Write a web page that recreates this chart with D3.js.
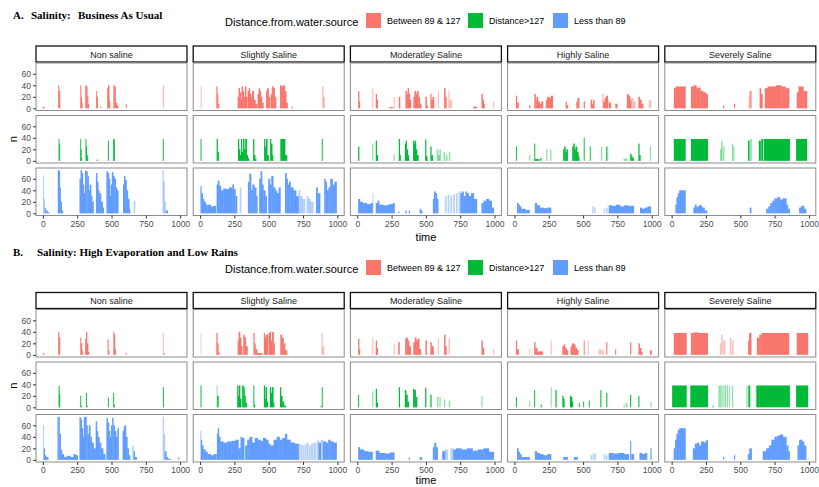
<!DOCTYPE html>
<html>
<head>
<meta charset="utf-8">
<script src="https://cdn.jsdelivr.net/npm/d3@7"></script>
<style>
  body { margin: 0; background: #fff; }
  text { font-family: "Liberation Sans", Arial, sans-serif; }
</style>
</head>
<body>
<script>

// Facets, groups and ticks
var facets = ["Non saline", "Slightly Saline", "Moderatley Saline", "Highly Saline", "Severely Saline"];
var groups = ["Between 89 & 127", "Distance>127", "Less than 89"];
var groupColors = ["#F8766D", "#00BA38", "#619CFF"];
var xTicks = [0, 250, 500, 750, 1000];
var yTicks = [0, 20, 40, 60];

// Each run is [time from, time to, n, light?]
// A. Business As Usual
var aNonRed = [[0,10,3],[113,118,40],[118,125,30],[274,279,40],[279,284,20],[284,288,10],
  [310,318,40],[318,324,38],[324,330,22],[330,335,8],[390,394,30],[394,400,20],[420,424,3],
  [470,476,35],[476,484,40],[484,490,12],[515,523,40],[523,530,38],[530,540,10],[540,548,5],
  [605,609,8],[875,882,40,1]];
var aNonGreen = [[116,120,38],[120,124,28],[274,277,38],[277,280,20],[280,283,5],[312,316,38],
  [316,320,25],[320,326,10],[326,330,3],[392,398,2],[475,479,35],[514,518,38],[518,523,37],[875,879,38]];
var aNonBlue = [[2,8,66,1],[8,14,25,1],[14,20,10],[20,34,5],[34,46,2],[110,116,75],[116,124,74],
  [124,130,45],[130,138,20],[138,146,5],[268,276,60],[276,284,75],[284,292,70],[292,300,50],
  [300,308,35],[308,318,74],[318,326,73],[326,334,65],[334,342,40],[342,352,50],[352,360,30],
  [360,370,20],[388,396,70],[396,404,55],[404,412,40],[412,424,35],[424,436,20],[436,444,10],
  [464,472,73],[472,482,70],[482,490,60],[490,496,30],[496,504,50],[504,512,72],[512,522,65],
  [522,532,60],[532,540,45],[540,550,40],[585,592,50],[592,600,65],[600,610,58],[610,620,40],
  [620,630,25],[630,636,8],[662,672,22,1],[872,880,75,1],[880,888,55,1],[888,896,20,1],[896,910,5]];

var aSlightRed = [[5,10,38,1],[120,126,38],[126,132,25],[132,138,8],[275,282,20],[282,290,35],
  [290,298,28],[298,304,15],[304,312,38],[312,320,30],[320,328,20],[328,336,38],[336,344,20],
  [348,356,30],[356,364,35],[364,372,25],[372,380,20],[380,392,30],[392,404,15],[404,416,8],
  [420,428,25],[428,436,35],[436,444,30],[444,452,20],[452,462,10],[482,490,30],[490,500,35],
  [500,510,20],[516,524,25],[524,534,38],[534,544,35],[544,554,20],[584,594,40],[594,606,38],
  [606,618,40],[618,628,30],[628,638,10],[668,674,3],[890,898,38,1],[898,908,20,1]];
var aSlightGreen = [[5,9,38],[122,128,38],[128,136,15],[278,284,38],[284,292,20],[292,300,10],
  [300,306,38],[306,314,15],[314,322,38],[322,330,20],[330,340,38],[340,348,10],[348,356,5],
  [388,394,38],[394,402,10],[402,410,3],[468,474,38],[474,482,25],[482,490,38],[490,500,10],
  [512,518,38],[518,526,30],[526,532,10],[586,594,38],[594,610,38],[610,620,38],[620,634,10],[888,892,38]];
var aSlightBlue = [[4,10,47],[10,20,35],[20,30,25],[30,42,20],[42,55,15],[55,80,15],[80,100,12],
  [100,116,13],[122,130,50],[130,140,57],[140,152,48],[152,170,40],[170,190,43],[190,212,42],
  [212,236,45],[236,246,50],[246,258,42],[258,270,30],[290,300,45,1],[350,360,55],[360,372,69],
  [372,382,40],[382,396,50],[396,410,45],[410,418,30],[432,442,60],[442,452,73],[452,462,50],
  [462,476,40],[476,486,30],[498,510,60],[510,520,50],[520,534,65],[534,548,45],[548,560,40],
  [560,574,35],[574,586,45],[620,630,70],[630,640,60],[640,650,50],[650,660,55],[660,680,45],
  [680,700,40],[700,718,30],[718,730,40,1],[730,745,30,1],[745,766,25,1],[778,790,30,1],
  [790,805,25,1],[805,826,20,1],[846,856,45],[856,875,35],[906,914,60],[914,924,55],[924,936,40],
  [936,950,45],[950,966,60],[966,980,50],[980,995,55]];

var aModRed = [[8,14,30],[14,20,12],[110,116,35,1],[136,142,25],[142,150,15],[232,260,2],
  [266,272,20,1],[304,312,20],[352,360,30],[360,368,25],[368,376,35],[376,384,25],[384,392,15],
  [410,418,20],[418,428,30],[428,436,25],[436,446,30],[446,456,20],[456,466,8],[498,506,20],
  [506,514,5],[534,540,25],[540,550,15],[550,560,20],[588,594,30,1],[634,642,35],[642,650,20],
  [665,672,30,1],[672,690,15,1],[846,872,3],[906,914,25],[914,922,15],[922,928,8],[990,996,12,1]];
var aModGreen = [[8,14,25],[110,116,30,1],[136,142,35],[142,150,10],[266,272,12,1],[304,310,38],
  [310,316,10],[348,354,30],[354,360,35],[360,368,20],[368,376,10],[408,414,35],[414,420,30],
  [420,428,35],[428,436,20],[436,446,10],[496,502,37],[502,510,8],[534,540,25],[540,550,10],
  [580,590,20,1],[590,600,10,1],[600,608,20,1],[630,640,15,1],[648,656,10,1],[668,676,15,1]];
var aModBlue = [[8,20,25],[20,40,20],[40,70,18],[70,100,16],[100,112,18],[112,116,35,1],
  [136,150,18],[150,160,22],[160,190,15],[190,230,14],[230,260,16],[260,272,18],[300,306,3],
  [352,358,5],[376,382,5],[456,464,8],[464,474,5],[552,560,25],[560,570,38],[570,580,35],
  [580,590,25],[640,650,30,1],[660,670,32,1],[680,690,30,1],[700,710,33,1],[720,730,35,1],
  [740,750,38,1],[752,762,35],[762,775,38],[775,790,30],[790,800,38],[800,812,35],[812,830,30],
  [830,850,35],[850,872,25],[906,920,18],[920,940,22],[940,960,25],[960,980,22],[980,995,10]];

var aHighRed = [[12,18,22],[18,30,10],[108,114,5],[146,154,25],[154,162,15],[162,172,20],
  [172,184,12],[184,196,8],[196,208,12],[230,240,15],[240,254,20],[254,266,18],[266,280,22],
  [374,380,12],[380,390,6],[452,460,12],[460,472,18],[506,512,12],[556,564,15],[564,574,8],
  [574,582,15],[640,648,25,1],[648,658,12],[658,668,18],[668,680,22],[680,690,15,1],[690,702,10],
  [736,750,8],[820,830,25],[830,842,22],[842,850,15],[850,866,18,1],[866,882,12,1],[904,914,20],
  [914,926,15],[926,938,8],[980,996,15,1]];
var aHighGreen = [[12,16,25],[108,113,10,1],[146,150,30],[150,180,3],[190,196,5],[232,238,20,1],
  [262,268,20,1],[356,364,20],[364,372,25],[372,380,15],[380,388,20],[422,430,25],[430,438,30],
  [438,446,20],[446,456,25],[456,466,15],[466,472,8],[506,510,40],[550,554,25],[632,638,25,1],
  [670,674,25],[678,682,25,1],[796,822,4,1],[844,852,12],[852,860,8],[860,870,5],[904,910,30],
  [910,918,10],[988,994,25,1]];
var aHighBlue = [[20,30,18],[30,40,15],[40,50,12],[50,80,8],[80,110,6],[150,164,18],[164,184,14],
  [184,210,10],[210,240,9],[240,267,10],[568,576,12,1],[584,592,10,1],[652,660,8,1],[670,678,10,1],
  [688,710,14],[710,740,13],[740,770,15],[770,800,12],[800,830,14],[830,870,13],[916,930,10],
  [930,950,8],[950,970,10],[970,994,12]];

var aSevRed = [[17,30,35],[30,101,38],[142,160,38],[160,180,40],[180,210,36],[210,230,30],
  [230,250,28],[250,263,25],[376,381,5],[456,461,8],[560,566,20,1],[566,574,30,1],[574,580,30],
  [642,650,35],[650,662,25],[680,700,35],[700,760,38],[760,800,40],[800,830,38],[830,856,35],
  [912,925,28],[925,960,38],[960,986,30]];
var aSevGreen = [[17,101,38],[142,263,38],[354,362,20,1],[362,370,35,1],[376,383,25,1],
  [440,446,30,1],[450,456,25,1],[558,566,35],[572,582,38,1],[636,648,35],[654,666,38],
  [674,860,38],[908,985,38]];
var aSevBlue = [[28,36,15],[36,46,28],[46,56,35],[56,101,40],[160,170,10],[170,180,15],
  [180,200,12],[200,220,14],[220,240,10],[240,258,5],[570,580,10],[690,705,8],[705,720,12],
  [720,735,18],[735,750,22],[750,770,26],[770,790,28],[790,810,24],[810,836,26],[836,848,15],
  [848,860,8],[930,945,10],[945,965,13],[965,980,8]];

// B. High Evaporation and Low Rains
var bNonRed = [[2,10,3],[113,118,40],[118,125,30],[274,279,30],[279,285,20],[285,290,8],
  [310,316,28],[316,322,40],[322,330,20],[330,336,5],[473,478,27],[478,484,8],[515,520,40],
  [520,526,35],[526,532,10],[605,609,3],[875,880,38,1],[880,886,3]];
var bNonGreen = [[116,121,37],[121,125,22],[274,278,20],[278,282,3],[315,319,25],[319,324,3],
  [475,479,17],[514,518,25],[518,522,5],[876,880,35]];
var bNonBlue = [[2,8,60,1],[8,14,20],[14,22,8],[22,40,5],[108,114,75],[114,122,74],[122,130,45],
  [130,140,18],[140,154,10],[154,175,5],[175,200,7],[200,225,5],[225,240,10],[240,255,8],
  [268,276,74],[276,284,70],[284,292,55],[292,300,40],[300,308,74],[308,318,75],[318,326,60],
  [326,336,45],[336,346,60],[346,356,40],[356,370,30],[370,385,20],[386,394,67],[394,402,50],
  [402,412,40],[412,424,30],[424,440,20],[440,455,10],[464,472,73],[472,482,65],[482,490,50],
  [490,498,40],[498,506,60],[506,514,73],[514,524,60],[524,534,50],[534,544,40],[544,552,55],
  [582,590,50],[590,598,58],[598,606,60],[606,616,40],[616,626,20],[626,636,8],[654,662,25,1],
  [662,670,15],[670,684,5],[874,882,75,1],[882,890,45,1],[890,900,15],[900,910,5],[910,930,2],
  [982,996,5,1]];

var bSlightRed = [[5,9,38,1],[120,126,38],[126,134,20],[134,140,5],[275,282,25],[282,292,40],
  [292,300,30],[300,308,15],[316,324,35],[324,334,30],[334,346,15],[390,396,38],[396,404,20],
  [404,416,10],[416,454,3],[466,472,38],[472,480,30],[480,494,35],[500,508,38],[508,516,40],
  [516,526,25],[526,536,40],[536,544,20],[586,596,35],[596,608,30],[608,620,20],[620,634,8],
  [886,892,38,1],[892,904,15,1]];
var bSlightGreen = [[5,9,38],[122,126,38,1],[126,134,20],[272,278,38],[278,284,20],[284,292,38],
  [292,300,15],[308,316,38],[316,324,35],[324,332,20],[332,340,8],[390,394,38],[394,400,5],
  [466,472,38],[472,478,15],[478,486,35],[486,494,10],[510,516,35],[516,524,25],[524,534,35],
  [534,540,8],[584,590,35],[590,600,20],[600,612,10],[612,624,3],[880,888,2],[888,892,35]];
var bSlightBlue = [[2,8,50,1],[8,14,35],[14,24,25],[24,40,18],[40,55,14],[55,80,10],[80,100,8],
  [100,120,10],[124,130,45],[130,138,55],[138,148,40],[148,170,32],[170,200,30],[200,230,32],
  [230,260,33],[260,280,35],[280,296,20],[296,306,40],[306,322,38],[330,345,25],[345,360,35],
  [360,380,40],[380,400,30],[400,420,38],[420,440,35],[440,460,33],[460,480,38],[480,498,35],
  [498,512,28],[512,537,25],[537,560,35],[560,580,40],[580,600,35],[600,620,38],[620,634,45],
  [634,660,35],[660,690,30],[690,718,28],[720,730,28,1],[735,745,26,1],[750,760,25,1],
  [765,775,28,1],[780,790,30,1],[795,805,25,1],[810,825,28,1],[830,845,30,1],[852,864,35,1],
  [864,880,30],[880,896,35,1],[896,915,32],[915,935,30],[935,950,35],[950,970,32],[970,995,30]];

var bModRed = [[8,14,28],[14,20,10],[110,116,30,1],[136,142,25],[142,150,12],[266,272,18,1],
  [300,308,22],[350,358,28],[358,368,30],[368,378,25],[378,390,15],[410,420,22],[420,430,30],
  [430,440,25],[440,452,28],[452,464,10],[498,506,25],[534,542,22],[542,556,15],[588,594,28,1],
  [634,642,35],[642,650,15],[666,674,28,1],[906,914,25],[914,924,12],[990,996,10,1]];
var bModGreen = [[8,12,22],[110,116,28,1],[136,142,32],[142,150,8],[304,310,35],[348,356,30],
  [356,366,22],[366,376,10],[408,416,32],[416,426,30],[426,436,18],[496,502,34],[534,540,22],
  [582,590,18,1],[600,606,18,1],[632,640,14,1],[668,676,12,1],[906,912,20,1]];
var bModBlue = [[8,20,22],[20,50,18],[50,80,15],[80,112,14],[136,160,16],[160,200,12],
  [200,240,11],[240,270,13],[376,382,4],[456,470,5],[552,562,22],[562,574,30],[574,586,22],
  [620,640,15],[640,660,18,1],[680,700,20,1],[700,720,18],[720,760,20],[760,800,18],[800,840,20],
  [840,880,16],[880,920,18],[920,960,20],[960,995,14]];

var bHighRed = [[12,18,25],[18,30,10],[109,113,10,1],[145,152,22],[152,166,12],[166,207,6],
  [265,270,25,1],[350,358,15],[358,368,18],[368,380,12],[380,390,8],[410,420,15],[420,432,20],
  [432,444,18],[444,456,12],[456,466,8],[506,510,25],[535,540,25,1],[615,630,10,1],[635,650,8,1],
  [670,675,22],[735,740,10],[844,850,22],[904,912,20],[912,924,12],[924,932,5],[988,998,8]];
var bHighGreen = [[12,16,18],[109,113,12,1],[145,149,30],[192,197,5],[265,270,35,1],[300,306,30],
  [350,356,20],[356,364,15],[405,412,20],[412,420,18],[420,426,10],[470,474,8],[502,506,10],
  [543,547,12],[627,632,30],[670,675,25],[796,802,5,1],[812,822,8,1],[844,849,22],[904,909,20],
  [993,998,10,1]];
var bHighBlue = [[20,30,20],[30,40,14],[40,51,10],[51,111,5],[150,164,15],[164,184,12],
  [184,210,10],[210,240,8],[240,267,10],[356,388,5],[434,460,5],[556,566,8,1],[572,582,12,1],
  [586,593,10,1],[652,660,10,1],[668,677,8,1],[688,720,12],[720,760,11],[760,800,12],[800,834,10],
  [844,849,33],[852,870,10],[912,930,12],[930,950,10],[950,966,12],[992,998,20]];

var bSevRed = [[17,108,38],[142,160,38],[160,190,39],[190,263,38],[352,360,20,1],[362,370,35,1],
  [376,390,25,1],[424,432,30,1],[440,450,25,1],[558,566,25],[566,580,38],[622,640,30],[640,655,35],
  [655,855,38],[912,993,38]];
var bSevGreen = [[5,108,38],[137,263,38],[300,304,3],[342,350,38,1],[354,358,38,1],[364,370,38,1],
  [378,384,38,1],[390,396,38,1],[404,410,38,1],[420,424,38,1],[440,446,38,1],[546,552,38,1],
  [560,571,38],[618,640,38],[640,860,38],[908,993,38]];
var bSevBlue = [[16,26,20],[26,36,35],[36,46,45],[46,56,52],[56,101,55],[156,170,20],[170,185,28],
  [185,200,30],[200,215,25],[215,235,32],[235,250,30],[250,263,34],[376,381,5],[456,461,8],
  [556,566,10],[566,583,20],[665,690,15],[690,710,20],[710,728,25],[728,750,35],[750,770,40],
  [770,790,42],[790,810,44],[810,836,40],[836,850,25],[850,860,15],[918,930,25],[930,950,35],
  [950,965,32],[965,980,25]];

var panelsA = [[aNonRed, aNonGreen, aNonBlue], [aSlightRed, aSlightGreen, aSlightBlue],
  [aModRed, aModGreen, aModBlue], [aHighRed, aHighGreen, aHighBlue], [aSevRed, aSevGreen, aSevBlue]];
var panelsB = [[bNonRed, bNonGreen, bNonBlue], [bSlightRed, bSlightGreen, bSlightBlue],
  [bModRed, bModGreen, bModBlue], [bHighRed, bHighGreen, bHighBlue], [bSevRed, bSevGreen, bSevBlue]];

// Layout
var colLeft = 36, colStep = 157.2, panelW = 151;
var stripH = 16, rowH = 47.5, rowStep = 52.5;

var svg = d3.select("body").append("svg")
  .attr("width", 819)
  .attr("height", 487);

function drawTitle(letter, words, x1, x2, y) {
  svg.append("text").attr("x", 13).attr("y", y)
    .style("font-family", "'Liberation Serif', 'Times New Roman', serif")
    .style("font-weight", "bold").style("font-size", "11px").text(letter);
  words.forEach(function(w, i) {
    svg.append("text").attr("x", [x1, x2][i]).attr("y", y)
      .style("font-family", "'Liberation Serif', 'Times New Roman', serif")
      .style("font-weight", "bold").style("font-size", "11px").text(w);
  });
}

function drawLegend(y) {
  svg.append("text").attr("x", 225).attr("y", y + 13)
    .style("font-size", "11px").text("Distance.from.water.source");
  var keyX = [366, 468, 553];
  groups.forEach(function(g, i) {
    svg.append("rect").attr("x", keyX[i]).attr("y", y).attr("width", 15).attr("height", 15)
      .attr("fill", groupColors[i]);
    svg.append("text").attr("x", keyX[i] + 21).attr("y", y + 11)
      .style("font-size", "9px").text(g);
  });
}

function drawBlock(panels, top, labelY) {
  facets.forEach(function(f, c) {
    var left = colLeft + c * colStep;
    var x = d3.scaleLinear().domain([-50, 1050]).range([left, left + panelW]);

    // strip
    svg.append("rect").attr("x", left).attr("y", top).attr("width", panelW).attr("height", stripH)
      .attr("fill", "#fff").attr("stroke", "#111").attr("stroke-width", 1.3);
    svg.append("text").attr("x", left + panelW / 2).attr("y", top + 11.5)
      .attr("text-anchor", "middle").style("font-size", "9px").attr("fill", "#1a1a1a").text(f);

    groups.forEach(function(grp, r) {
      var y0 = top + stripH + 1 + r * rowStep;
      var y = d3.scaleLinear().domain([-3.75, 78.75]).range([y0 + rowH, y0]);
      var g = svg.append("g");

      // small overlap so neighbouring runs do not show seams
      g.selectAll("rect.bar")
        .data(panels[c][r])
        .enter().append("rect")
          .attr("class", "bar")
          .attr("x", function(d) { return x(d[0]) - 0.2; })
          .attr("width", function(d) { return Math.max(x(d[1]) - x(d[0]) + 0.4, 0.9); })
          .attr("y", function(d) { return y(d[2]); })
          .attr("height", function(d) { return y(0) - y(d[2]); })
          .attr("fill", groupColors[r])
          .attr("fill-opacity", function(d) { return d[3] ? 0.45 : 1; });

      g.append("rect").attr("x", left).attr("y", y0).attr("width", panelW).attr("height", rowH)
        .attr("fill", "none").attr("stroke", "#8c8c8c").attr("stroke-width", 1);

      if (c == 0) {
        var ya = g.append("g").attr("transform", "translate(" + left + ",0)")
          .call(d3.axisLeft(y).tickValues(yTicks).tickSize(3).tickPadding(2));
        styleAxis(ya);
      }
      if (r == 2) {
        var xa = g.append("g").attr("transform", "translate(0," + (y0 + rowH) + ")")
          .call(d3.axisBottom(x).tickValues(xTicks).tickFormat(d3.format("d"))
            .tickSize(3).tickPadding(2));
        styleAxis(xa);
      }
    });
  });

  // axis titles
  svg.append("text").attr("x", 426).attr("y", labelY)
    .attr("text-anchor", "middle").style("font-size", "11px").text("time");
  svg.append("text")
    .attr("transform", "translate(17," + (top + stripH + 1 + rowStep + rowH / 2) + ")rotate(-90)")
    .attr("text-anchor", "middle").style("font-size", "11px").text("n");
}

function styleAxis(a) {
  a.select(".domain").remove();
  a.selectAll(".tick line").attr("stroke", "#333");
  a.selectAll(".tick text").attr("fill", "#4d4d4d")
    .style("font-size", "8.5px").style("font-family", "'Liberation Sans', Arial, sans-serif");
}

drawTitle("A.", ["Salinity:", "Business As Usual"], 31, 78, 19);
drawLegend(13);
drawBlock(panelsA, 46, 241);

drawTitle("B.", ["Salinity: High Evaporation and Low Rains"], 37, 0, 256);
drawLegend(260);
drawBlock(panelsB, 292.5, 484);

</script>
</body>
</html>
